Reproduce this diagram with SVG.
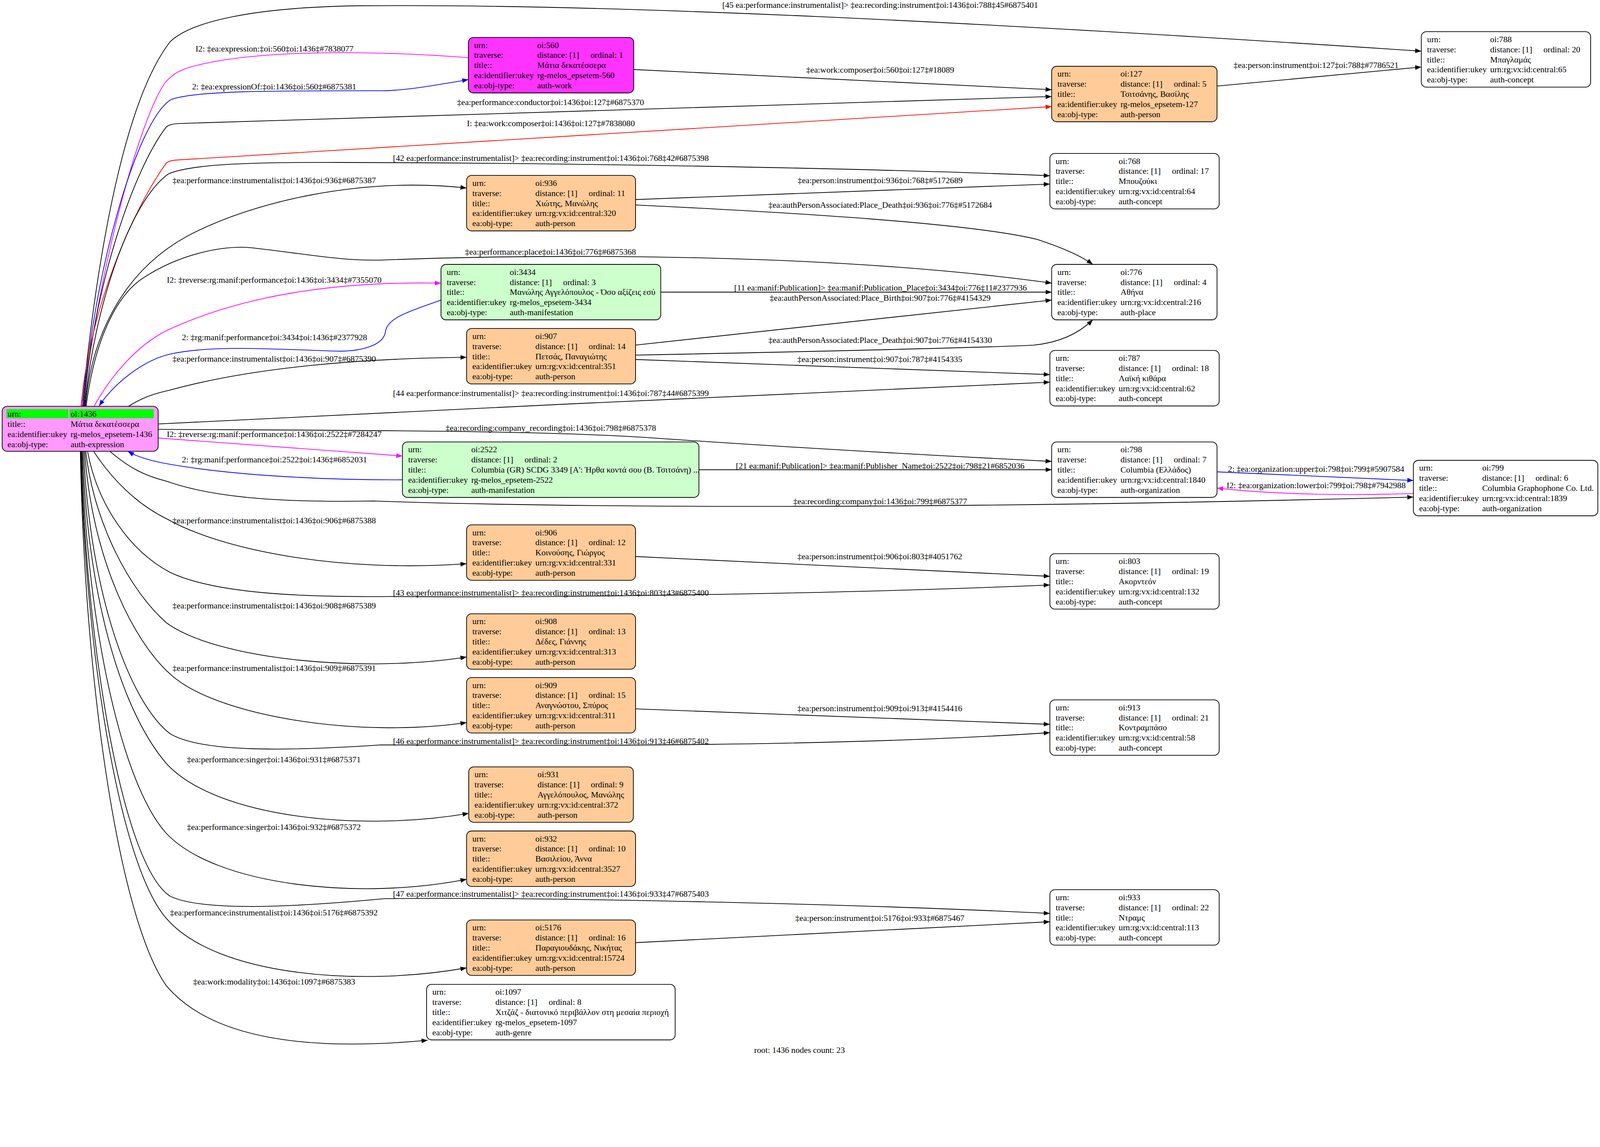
<svg xmlns="http://www.w3.org/2000/svg" width="4441" height="2937" viewBox="0 0 4441 2937">
<style>
text{font-family:"Liberation Serif","Times New Roman",serif;font-size:23.5px;fill:#000}
.lbl{text-anchor:middle}
.nb{stroke:#000;stroke-width:2}
.w{fill:#fff}.p{fill:#ffcc99}.g{fill:#ccffcc}.m{fill:#ff33ff}.x{fill:#ff99ff}
.e{fill:none;stroke-width:2;stroke:#000}
.eb{stroke:#0000ff}.em{stroke:#ff00ff}.er{stroke:#ff0000}
</style>
<defs>
<marker id="ak" markerUnits="userSpaceOnUse" markerWidth="18" markerHeight="13" refX="17" refY="6.5" orient="auto" viewBox="0 0 18 13"><path d="M0,0 L17,6.5 L0,13 z" fill="#000"/></marker>
<marker id="ab" markerUnits="userSpaceOnUse" markerWidth="18" markerHeight="13" refX="17" refY="6.5" orient="auto" viewBox="0 0 18 13"><path d="M0,0 L17,6.5 L0,13 z" fill="#0000ff"/></marker>
<marker id="am" markerUnits="userSpaceOnUse" markerWidth="18" markerHeight="13" refX="17" refY="6.5" orient="auto" viewBox="0 0 18 13"><path d="M0,0 L17,6.5 L0,13 z" fill="#ff00ff"/></marker>
<marker id="ar" markerUnits="userSpaceOnUse" markerWidth="18" markerHeight="13" refX="17" refY="6.5" orient="auto" viewBox="0 0 18 13"><path d="M0,0 L17,6.5 L0,13 z" fill="#ff0000"/></marker>
</defs>
<rect width="4441" height="2937" fill="#fff"/>
<g id="diagram" transform="scale(0.92232)">
<g id="edges">
<g><path class="e" marker-end="url(#ak)" d="M228,1128 C260,800 330,300 472,116 C530,60 700,20 1000,16 C1700,10 2700,60 3945,142"/><text class="lbl" x="2443" y="22">[45 ea:performance:instrumentalist]&gt; ‡ea:recording:instrument‡oi:1436‡oi:788‡45#6875401</text></g>
<g><path class="e em" marker-end="url(#am)" d="M1300,160 C1100,145 800,135 600,170 C520,185 490,195 462,225 C400,300 280,700 230,1128"/><text class="lbl" x="762" y="143">I2: ‡ea:expression:‡oi:560‡oi:1436‡#7838077</text></g>
<g><path class="e eb" marker-end="url(#ab)" d="M231,1128 C260,750 380,340 472,278 C530,250 800,252 1060,252 C1120,252 1200,238 1300,221"/><text class="lbl" x="761" y="248">2: ‡ea:expressionOf:‡oi:1436‡oi:560‡#6875381</text></g>
<g><path class="e" marker-end="url(#ak)" d="M233,1128 C258,800 370,470 462,352 Q472,344 495,343 L2919,268"/><text class="lbl" x="1528" y="292">‡ea:performance:conductor‡oi:1436‡oi:127‡#6875370</text></g>
<g><path class="e er" marker-end="url(#ar)" d="M225,1128 C250,850 370,580 462,452 Q472,445 495,444 L2919,296"/><text class="lbl" x="1529" y="350">I: ‡ea:work:composer‡oi:1436‡oi:127‡#7838080</text></g>
<g><path class="e" marker-end="url(#ak)" d="M1759,193 L2919,249"/><text class="lbl" x="2443" y="202">‡ea:work:composer‡oi:560‡oi:127‡#18089</text></g>
<g><path class="e" marker-end="url(#ak)" d="M3378,239 L3945,186"/><text class="lbl" x="3653" y="189">‡ea:person:instrument‡oi:127‡oi:788‡#7786521</text></g>
<g><path class="e" marker-end="url(#ak)" d="M235,1128 C262,850 360,560 467,483 C530,455 700,450 944,451 C1700,453 2500,470 2914,488"/><text class="lbl" x="1529" y="447">[42 ea:performance:instrumentalist]&gt; ‡ea:recording:instrument‡oi:1436‡oi:768‡42#6875398</text></g>
<g><path class="e" marker-end="url(#ak)" d="M237,1128 C252,950 330,760 519,656 C700,560 1000,490 1295,522"/><text class="lbl" x="761" y="509">‡ea:performance:instrumentalist‡oi:1436‡oi:936‡#6875387</text></g>
<g><path class="e" marker-end="url(#ak)" d="M1764,554 L2914,511"/><text class="lbl" x="2443" y="509">‡ea:person:instrument‡oi:936‡oi:768‡#5172689</text></g>
<g><path class="e" marker-end="url(#ak)" d="M1764,569 C2200,590 2700,620 2880,665 C2950,688 3000,710 3033,734"/><text class="lbl" x="2443" y="577">‡ea:authPersonAssociated:Place_Death‡oi:936‡oi:776‡#5172684</text></g>
<g><path class="e" marker-end="url(#ak)" d="M239,1128 C262,950 320,820 400,770 C500,705 620,680 700,688 C850,705 950,725 1060,722 C1500,705 2300,700 2919,786"/><text class="lbl" x="1528" y="707">‡ea:performance:place‡oi:1436‡oi:776‡#6875368</text></g>
<g><path class="e em" marker-end="url(#am)" d="M261,1128 C310,1040 380,960 462,918 C650,830 900,780 1224,786"/><text class="lbl" x="761" y="785">I2: ‡reverse:rg:manif:performance‡oi:1436‡oi:3434‡#7355070</text></g>
<g><path class="e eb" marker-end="url(#ab)" d="M1224,833 C1150,860 1075,880 1070,920 C1065,960 1000,975 944,975 C800,972 600,955 472,983 C400,1000 320,1060 275,1127"/><text class="lbl" x="762" y="944">2: ‡rg:manif:performance‡oi:3434‡oi:1436‡#2377928</text></g>
<g><path class="e" marker-end="url(#ak)" d="M1834,811 L2919,811"/><text class="lbl" x="2444" y="807">[11 ea:manif:Publication]&gt; ‡ea:manif:Publication_Place‡oi:3434‡oi:776‡11#2377936</text></g>
<g><path class="e" marker-end="url(#ak)" d="M1764,958 L2919,833"/><text class="lbl" x="2443" y="835">‡ea:authPersonAssociated:Place_Birth‡oi:907‡oi:776‡#4154329</text></g>
<g><path class="e" marker-end="url(#ak)" d="M1764,986 C2300,975 2750,965 2870,958 C2950,950 3000,920 3033,888"/><text class="lbl" x="2443" y="952">‡ea:authPersonAssociated:Place_Death‡oi:907‡oi:776‡#4154330</text></g>
<g><path class="e" marker-end="url(#ak)" d="M357,1128 C400,1100 440,1090 472,1083 C700,1020 1000,995 1295,992"/><text class="lbl" x="761" y="1004">‡ea:performance:instrumentalist‡oi:1436‡oi:907‡#6875390</text></g>
<g><path class="e" marker-end="url(#ak)" d="M1764,998 L2914,1040"/><text class="lbl" x="2442" y="1005">‡ea:person:instrument‡oi:907‡oi:787‡#4154335</text></g>
<g><path class="e" marker-end="url(#ak)" d="M439,1177 C1200,1140 2200,1090 2914,1061"/><text class="lbl" x="1529" y="1099">[44 ea:performance:instrumentalist]&gt; ‡ea:recording:instrument‡oi:1436‡oi:787‡44#6875399</text></g>
<g><path class="e" marker-end="url(#ak)" d="M439,1192 C1000,1195 1500,1195 1800,1215 C2300,1250 2700,1270 2919,1281"/><text class="lbl" x="1529" y="1196">‡ea:recording:company_recording‡oi:1436‡oi:798‡#6875378</text></g>
<g><path class="e em" marker-end="url(#am)" d="M439,1216 L1117,1266"/><text class="lbl" x="761" y="1213">I2: ‡reverse:rg:manif:performance‡oi:1436‡oi:2522‡#7284247</text></g>
<g><path class="e eb" marker-end="url(#ab)" d="M1117,1332 C900,1333 650,1320 472,1289 C420,1280 380,1268 355,1253"/><text class="lbl" x="762" y="1284">2: ‡rg:manif:performance‡oi:2522‡oi:1436‡#6852031</text></g>
<g><path class="e" marker-end="url(#ak)" d="M1940,1304 L2919,1304"/><text class="lbl" x="2443" y="1301">[21 ea:manif:Publication]&gt; ‡ea:manif:Publisher_Name‡oi:2522‡oi:798‡21#6852036</text></g>
<g><path class="e eb" marker-end="url(#ab)" d="M3378,1310 L3923,1334"/><text class="lbl" x="3653" y="1310">2: ‡ea:organization:upper‡oi:798‡oi:799‡#5907584</text></g>
<g><path class="e em" marker-end="url(#am)" d="M3923,1370 C3750,1376 3550,1374 3378,1355"/><text class="lbl" x="3653" y="1355">I2: ‡ea:organization:lower‡oi:799‡oi:798‡#7942988</text></g>
<g><path class="e" marker-end="url(#ak)" d="M305,1253 C360,1300 400,1320 462,1336 C600,1385 800,1395 1038,1391 C1600,1410 2600,1415 3923,1380"/><text class="lbl" x="2443" y="1400">‡ea:recording:company‡oi:1436‡oi:799‡#6875377</text></g>
<g><path class="e" marker-end="url(#ak)" d="M260,1253 C310,1330 380,1400 462,1440 C620,1530 950,1590 1295,1565"/><text class="lbl" x="761" y="1453">‡ea:performance:instrumentalist‡oi:1436‡oi:906‡#6875388</text></g>
<g><path class="e" marker-end="url(#ak)" d="M1764,1545 L2914,1600"/><text class="lbl" x="2442" y="1553">‡ea:person:instrument‡oi:906‡oi:803‡#4051762</text></g>
<g><path class="e" marker-end="url(#ak)" d="M243,1253 C270,1400 360,1530 472,1589 C600,1650 850,1658 1085,1656 C1500,1660 2300,1650 2914,1624"/><text class="lbl" x="1529" y="1653">[43 ea:performance:instrumentalist]&gt; ‡ea:recording:instrument‡oi:1436‡oi:803‡43#6875400</text></g>
<g><path class="e" marker-end="url(#ak)" d="M238,1253 C260,1450 360,1640 462,1729 C600,1830 1000,1870 1295,1824"/><text class="lbl" x="761" y="1689">‡ea:performance:instrumentalist‡oi:1436‡oi:908‡#6875389</text></g>
<g><path class="e" marker-end="url(#ak)" d="M235,1253 C255,1550 370,1780 472,1871 C600,1990 1000,2050 1295,2006"/><text class="lbl" x="761" y="1863">‡ea:performance:instrumentalist‡oi:1436‡oi:909‡#6875391</text></g>
<g><path class="e" marker-end="url(#ak)" d="M1764,1968 L2914,2011"/><text class="lbl" x="2442" y="1974">‡ea:person:instrument‡oi:909‡oi:913‡#4154416</text></g>
<g><path class="e" marker-end="url(#ak)" d="M232,1253 C250,1650 360,1950 472,2037 C560,2090 800,2085 1057,2068 C1500,2070 2300,2075 2914,2034"/><text class="lbl" x="1529" y="2065">[46 ea:performance:instrumentalist]&gt; ‡ea:recording:instrument‡oi:1436‡oi:913‡46#6875402</text></g>
<g><path class="e" marker-end="url(#ak)" d="M229,1253 C246,1700 350,1990 462,2120 C600,2270 1000,2310 1301,2258"/><text class="lbl" x="760" y="2116">‡ea:performance:singer‡oi:1436‡oi:931‡#6875371</text></g>
<g><path class="e" marker-end="url(#ak)" d="M227,1253 C242,1750 340,2180 462,2314 C600,2460 1000,2500 1295,2441"/><text class="lbl" x="760" y="2304">‡ea:performance:singer‡oi:1436‡oi:932‡#6875372</text></g>
<g><path class="e" marker-end="url(#ak)" d="M225,1253 C240,1800 340,2400 472,2488 C560,2530 800,2520 1067,2495 C1500,2490 2400,2510 2914,2536"/><text class="lbl" x="1529" y="2489">[47 ea:performance:instrumentalist]&gt; ‡ea:recording:instrument‡oi:1436‡oi:933‡47#6875403</text></g>
<g><path class="e" marker-end="url(#ak)" d="M224,1253 C236,1800 330,2400 462,2550 C600,2710 1000,2740 1295,2687"/><text class="lbl" x="760" y="2541">‡ea:performance:instrumentalist‡oi:1436‡oi:5176‡#6875392</text></g>
<g><path class="e" marker-end="url(#ak)" d="M1764,2617 L2914,2559"/><text class="lbl" x="2442" y="2557">‡ea:person:instrument‡oi:5176‡oi:933‡#6875467</text></g>
<g><path class="e" marker-end="url(#ak)" d="M223,1253 C235,1900 330,2550 462,2737 C600,2900 900,2915 1187,2888"/><text class="lbl" x="761" y="2733">‡ea:work:modality‡oi:1436‡oi:1097‡#6875383</text></g>
</g>
<g id="n1436"><rect class="nb x" x="6" y="1128" width="433" height="125" rx="14"/><rect x="18" y="1136" width="172" height="25" fill="#00ff00"/><rect x="193" y="1136" width="234" height="25" fill="#00ff00"/><text x="21" y="1157">urn:</text><text x="196" y="1157">oi:1436</text><text x="21" y="1185">title::</text><text x="196" y="1185">Μάτια δεκατέσσερα</text><text x="21" y="1213">ea:identifier:ukey</text><text x="196" y="1213">rg-melos_epsetem-1436</text><text x="21" y="1241">ea:obj-type:</text><text x="196" y="1241">auth-expression</text></g>
<g id="n560"><rect class="nb m" x="1300" y="104" width="459" height="154" rx="14"/><text x="1316" y="133">urn:</text><text x="1491" y="133">oi:560</text><text x="1316" y="161">traverse:</text><text x="1491" y="161">distance: [1]</text><text x="1639" y="161">ordinal: 1</text><text x="1316" y="189">title::</text><text x="1491" y="189">Μάτια δεκατέσσερα</text><text x="1316" y="217">ea:identifier:ukey</text><text x="1491" y="217">rg-melos_epsetem-560</text><text x="1316" y="245">ea:obj-type:</text><text x="1491" y="245">auth-work</text></g>
<g id="n127"><rect class="nb p" x="2919" y="184" width="459" height="154" rx="14"/><text x="2935" y="213">urn:</text><text x="3110" y="213">oi:127</text><text x="2935" y="241">traverse:</text><text x="3110" y="241">distance: [1]</text><text x="3258" y="241">ordinal: 5</text><text x="2935" y="269">title::</text><text x="3110" y="269">Τσιτσάνης, Βασίλης</text><text x="2935" y="297">ea:identifier:ukey</text><text x="3110" y="297">rg-melos_epsetem-127</text><text x="2935" y="325">ea:obj-type:</text><text x="3110" y="325">auth-person</text></g>
<g id="n788"><rect class="nb w" x="3945" y="88" width="470" height="154" rx="14"/><text x="3961" y="117">urn:</text><text x="4136" y="117">oi:788</text><text x="3961" y="145">traverse:</text><text x="4136" y="145">distance: [1]</text><text x="4284" y="145">ordinal: 20</text><text x="3961" y="173">title::</text><text x="4136" y="173">Μπαγλαμάς</text><text x="3961" y="201">ea:identifier:ukey</text><text x="4136" y="201">urn:rg:vx:id:central:65</text><text x="3961" y="229">ea:obj-type:</text><text x="4136" y="229">auth-concept</text></g>
<g id="n768"><rect class="nb w" x="2914" y="426" width="470" height="154" rx="14"/><text x="2930" y="455">urn:</text><text x="3105" y="455">oi:768</text><text x="2930" y="483">traverse:</text><text x="3105" y="483">distance: [1]</text><text x="3253" y="483">ordinal: 17</text><text x="2930" y="511">title::</text><text x="3105" y="511">Μπουζούκι</text><text x="2930" y="539">ea:identifier:ukey</text><text x="3105" y="539">urn:rg:vx:id:central:64</text><text x="2930" y="567">ea:obj-type:</text><text x="3105" y="567">auth-concept</text></g>
<g id="n936"><rect class="nb p" x="1295" y="487" width="469" height="154" rx="14"/><text x="1311" y="516">urn:</text><text x="1486" y="516">oi:936</text><text x="1311" y="544">traverse:</text><text x="1486" y="544">distance: [1]</text><text x="1634" y="544">ordinal: 11</text><text x="1311" y="572">title::</text><text x="1486" y="572">Χιώτης, Μανώλης</text><text x="1311" y="600">ea:identifier:ukey</text><text x="1486" y="600">urn:rg:vx:id:central:320</text><text x="1311" y="628">ea:obj-type:</text><text x="1486" y="628">auth-person</text></g>
<g id="n776"><rect class="nb w" x="2919" y="734" width="459" height="154" rx="14"/><text x="2935" y="763">urn:</text><text x="3110" y="763">oi:776</text><text x="2935" y="791">traverse:</text><text x="3110" y="791">distance: [1]</text><text x="3258" y="791">ordinal: 4</text><text x="2935" y="819">title::</text><text x="3110" y="819">Αθήνα</text><text x="2935" y="847">ea:identifier:ukey</text><text x="3110" y="847">urn:rg:vx:id:central:216</text><text x="2935" y="875">ea:obj-type:</text><text x="3110" y="875">auth-place</text></g>
<g id="n3434"><rect class="nb g" x="1224" y="734" width="610" height="154" rx="14"/><text x="1240" y="763">urn:</text><text x="1415" y="763">oi:3434</text><text x="1240" y="791">traverse:</text><text x="1415" y="791">distance: [1]</text><text x="1563" y="791">ordinal: 3</text><text x="1240" y="819">title::</text><text x="1415" y="819">Μανώλης Αγγελόπουλος - Όσο αξίζεις εσύ</text><text x="1240" y="847">ea:identifier:ukey</text><text x="1415" y="847">rg-melos_epsetem-3434</text><text x="1240" y="875">ea:obj-type:</text><text x="1415" y="875">auth-manifestation</text></g>
<g id="n907"><rect class="nb p" x="1295" y="912" width="469" height="154" rx="14"/><text x="1311" y="941">urn:</text><text x="1486" y="941">oi:907</text><text x="1311" y="969">traverse:</text><text x="1486" y="969">distance: [1]</text><text x="1634" y="969">ordinal: 14</text><text x="1311" y="997">title::</text><text x="1486" y="997">Πετσάς, Παναγιώτης</text><text x="1311" y="1025">ea:identifier:ukey</text><text x="1486" y="1025">urn:rg:vx:id:central:351</text><text x="1311" y="1053">ea:obj-type:</text><text x="1486" y="1053">auth-person</text></g>
<g id="n787"><rect class="nb w" x="2914" y="973" width="470" height="154" rx="14"/><text x="2930" y="1002">urn:</text><text x="3105" y="1002">oi:787</text><text x="2930" y="1030">traverse:</text><text x="3105" y="1030">distance: [1]</text><text x="3253" y="1030">ordinal: 18</text><text x="2930" y="1058">title::</text><text x="3105" y="1058">Λαϊκή κιθάρα</text><text x="2930" y="1086">ea:identifier:ukey</text><text x="3105" y="1086">urn:rg:vx:id:central:62</text><text x="2930" y="1114">ea:obj-type:</text><text x="3105" y="1114">auth-concept</text></g>
<g id="n798"><rect class="nb w" x="2919" y="1227" width="459" height="154" rx="14"/><text x="2935" y="1256">urn:</text><text x="3110" y="1256">oi:798</text><text x="2935" y="1284">traverse:</text><text x="3110" y="1284">distance: [1]</text><text x="3258" y="1284">ordinal: 7</text><text x="2935" y="1312">title::</text><text x="3110" y="1312">Columbia (Ελλάδος)</text><text x="2935" y="1340">ea:identifier:ukey</text><text x="3110" y="1340">urn:rg:vx:id:central:1840</text><text x="2935" y="1368">ea:obj-type:</text><text x="3110" y="1368">auth-organization</text></g>
<g id="n799"><rect class="nb w" x="3923" y="1278" width="512" height="154" rx="14"/><text x="3939" y="1307">urn:</text><text x="4114" y="1307">oi:799</text><text x="3939" y="1335">traverse:</text><text x="4114" y="1335">distance: [1]</text><text x="4262" y="1335">ordinal: 6</text><text x="3939" y="1363">title::</text><text x="4114" y="1363">Columbia Graphophone Co. Ltd.</text><text x="3939" y="1391">ea:identifier:ukey</text><text x="4114" y="1391">urn:rg:vx:id:central:1839</text><text x="3939" y="1419">ea:obj-type:</text><text x="4114" y="1419">auth-organization</text></g>
<g id="n2522"><rect class="nb g" x="1117" y="1227" width="823" height="154" rx="14"/><text x="1133" y="1256">urn:</text><text x="1308" y="1256">oi:2522</text><text x="1133" y="1284">traverse:</text><text x="1308" y="1284">distance: [1]</text><text x="1456" y="1284">ordinal: 2</text><text x="1133" y="1312">title::</text><text x="1308" y="1312">Columbia (GR) SCDG 3349 [Α': Ήρθα κοντά σου (Β. Τσιτσάνη) ...</text><text x="1133" y="1340">ea:identifier:ukey</text><text x="1308" y="1340">rg-melos_epsetem-2522</text><text x="1133" y="1368">ea:obj-type:</text><text x="1308" y="1368">auth-manifestation</text></g>
<g id="n906"><rect class="nb p" x="1295" y="1457" width="469" height="154" rx="14"/><text x="1311" y="1486">urn:</text><text x="1486" y="1486">oi:906</text><text x="1311" y="1514">traverse:</text><text x="1486" y="1514">distance: [1]</text><text x="1634" y="1514">ordinal: 12</text><text x="1311" y="1542">title::</text><text x="1486" y="1542">Κοινούσης, Γιώργος</text><text x="1311" y="1570">ea:identifier:ukey</text><text x="1486" y="1570">urn:rg:vx:id:central:331</text><text x="1311" y="1598">ea:obj-type:</text><text x="1486" y="1598">auth-person</text></g>
<g id="n803"><rect class="nb w" x="2914" y="1537" width="470" height="154" rx="14"/><text x="2930" y="1566">urn:</text><text x="3105" y="1566">oi:803</text><text x="2930" y="1594">traverse:</text><text x="3105" y="1594">distance: [1]</text><text x="3253" y="1594">ordinal: 19</text><text x="2930" y="1622">title::</text><text x="3105" y="1622">Ακορντεόν</text><text x="2930" y="1650">ea:identifier:ukey</text><text x="3105" y="1650">urn:rg:vx:id:central:132</text><text x="2930" y="1678">ea:obj-type:</text><text x="3105" y="1678">auth-concept</text></g>
<g id="n908"><rect class="nb p" x="1295" y="1704" width="469" height="154" rx="14"/><text x="1311" y="1733">urn:</text><text x="1486" y="1733">oi:908</text><text x="1311" y="1761">traverse:</text><text x="1486" y="1761">distance: [1]</text><text x="1634" y="1761">ordinal: 13</text><text x="1311" y="1789">title::</text><text x="1486" y="1789">Δέδες, Γιάννης</text><text x="1311" y="1817">ea:identifier:ukey</text><text x="1486" y="1817">urn:rg:vx:id:central:313</text><text x="1311" y="1845">ea:obj-type:</text><text x="1486" y="1845">auth-person</text></g>
<g id="n909"><rect class="nb p" x="1295" y="1881" width="469" height="154" rx="14"/><text x="1311" y="1910">urn:</text><text x="1486" y="1910">oi:909</text><text x="1311" y="1938">traverse:</text><text x="1486" y="1938">distance: [1]</text><text x="1634" y="1938">ordinal: 15</text><text x="1311" y="1966">title::</text><text x="1486" y="1966">Αναγνώστου, Σπύρος</text><text x="1311" y="1994">ea:identifier:ukey</text><text x="1486" y="1994">urn:rg:vx:id:central:311</text><text x="1311" y="2022">ea:obj-type:</text><text x="1486" y="2022">auth-person</text></g>
<g id="n913"><rect class="nb w" x="2914" y="1943" width="470" height="154" rx="14"/><text x="2930" y="1972">urn:</text><text x="3105" y="1972">oi:913</text><text x="2930" y="2000">traverse:</text><text x="3105" y="2000">distance: [1]</text><text x="3253" y="2000">ordinal: 21</text><text x="2930" y="2028">title::</text><text x="3105" y="2028">Κοντραμπάσο</text><text x="2930" y="2056">ea:identifier:ukey</text><text x="3105" y="2056">urn:rg:vx:id:central:58</text><text x="2930" y="2084">ea:obj-type:</text><text x="3105" y="2084">auth-concept</text></g>
<g id="n931"><rect class="nb p" x="1301" y="2129" width="457" height="154" rx="14"/><text x="1317" y="2158">urn:</text><text x="1492" y="2158">oi:931</text><text x="1317" y="2186">traverse:</text><text x="1492" y="2186">distance: [1]</text><text x="1640" y="2186">ordinal: 9</text><text x="1317" y="2214">title::</text><text x="1492" y="2214">Αγγελόπουλος, Μανώλης</text><text x="1317" y="2242">ea:identifier:ukey</text><text x="1492" y="2242">urn:rg:vx:id:central:372</text><text x="1317" y="2270">ea:obj-type:</text><text x="1492" y="2270">auth-person</text></g>
<g id="n932"><rect class="nb p" x="1295" y="2307" width="469" height="154" rx="14"/><text x="1311" y="2336">urn:</text><text x="1486" y="2336">oi:932</text><text x="1311" y="2364">traverse:</text><text x="1486" y="2364">distance: [1]</text><text x="1634" y="2364">ordinal: 10</text><text x="1311" y="2392">title::</text><text x="1486" y="2392">Βασιλείου, Άννα</text><text x="1311" y="2420">ea:identifier:ukey</text><text x="1486" y="2420">urn:rg:vx:id:central:3527</text><text x="1311" y="2448">ea:obj-type:</text><text x="1486" y="2448">auth-person</text></g>
<g id="n933"><rect class="nb w" x="2914" y="2470" width="470" height="154" rx="14"/><text x="2930" y="2499">urn:</text><text x="3105" y="2499">oi:933</text><text x="2930" y="2527">traverse:</text><text x="3105" y="2527">distance: [1]</text><text x="3253" y="2527">ordinal: 22</text><text x="2930" y="2555">title::</text><text x="3105" y="2555">Ντραμς</text><text x="2930" y="2583">ea:identifier:ukey</text><text x="3105" y="2583">urn:rg:vx:id:central:113</text><text x="2930" y="2611">ea:obj-type:</text><text x="3105" y="2611">auth-concept</text></g>
<g id="n5176"><rect class="nb p" x="1295" y="2554" width="469" height="154" rx="14"/><text x="1311" y="2583">urn:</text><text x="1486" y="2583">oi:5176</text><text x="1311" y="2611">traverse:</text><text x="1486" y="2611">distance: [1]</text><text x="1634" y="2611">ordinal: 16</text><text x="1311" y="2639">title::</text><text x="1486" y="2639">Παραγιουδάκης, Νικήτας</text><text x="1311" y="2667">ea:identifier:ukey</text><text x="1486" y="2667">urn:rg:vx:id:central:15724</text><text x="1311" y="2695">ea:obj-type:</text><text x="1486" y="2695">auth-person</text></g>
<g id="n1097"><rect class="nb w" x="1184" y="2733" width="690" height="154" rx="14"/><text x="1200" y="2762">urn:</text><text x="1375" y="2762">oi:1097</text><text x="1200" y="2790">traverse:</text><text x="1375" y="2790">distance: [1]</text><text x="1523" y="2790">ordinal: 8</text><text x="1200" y="2818">title::</text><text x="1375" y="2818">Χιτζάζ - διατονικό περιβάλλον στη μεσαία περιοχή</text><text x="1200" y="2846">ea:identifier:ukey</text><text x="1375" y="2846">rg-melos_epsetem-1097</text><text x="1200" y="2874">ea:obj-type:</text><text x="1375" y="2874">auth-genre</text></g>
<text class="lbl" x="2219" y="2923">root: 1436 nodes count: 23</text>
</g>
</svg>
